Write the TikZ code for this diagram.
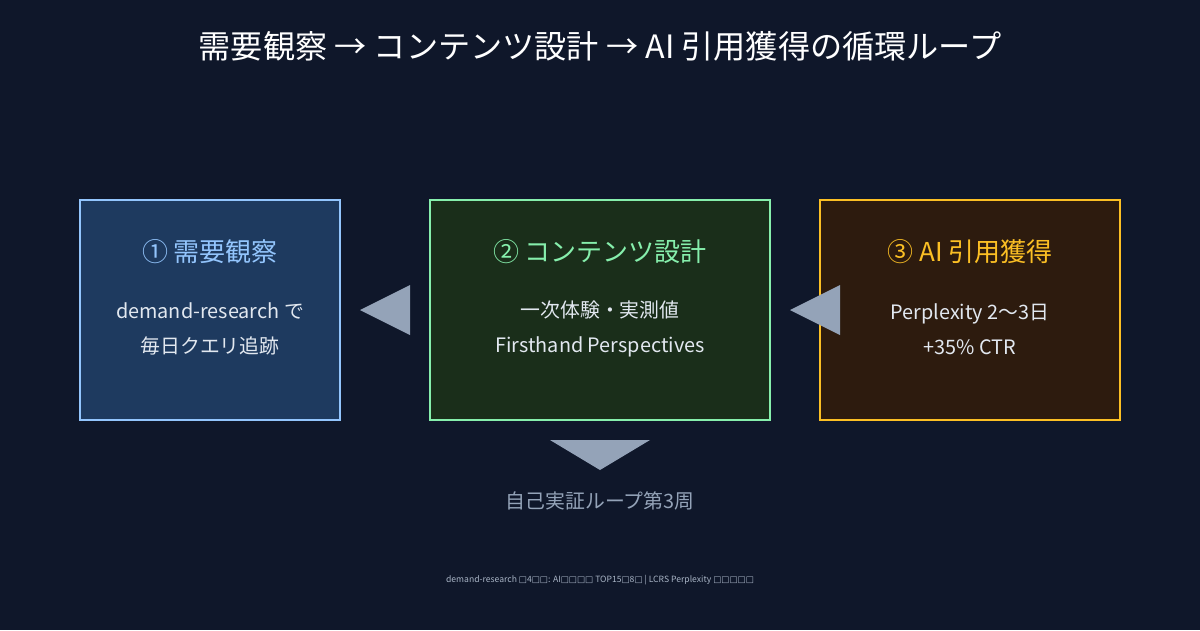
\documentclass[tikz,border=0pt]{standalone}
\usepackage{fontspec}
\setmainfont{Noto Sans CJK JP}
\newfontfamily\symfont{DejaVu Sans}
\definecolor{bgc}{HTML}{0F172A}
\definecolor{slate}{HTML}{94A3B8}
\definecolor{bluefill}{HTML}{1E3A5F}
\definecolor{bluedraw}{HTML}{93C5FD}
\definecolor{greenfill}{HTML}{1A2E1A}
\definecolor{greendraw}{HTML}{86EFAC}
\definecolor{amberfill}{HTML}{2D1B0E}
\definecolor{amberdraw}{HTML}{FBBF24}
\definecolor{bodytext}{HTML}{E2E8F0}
\tikzset{
  stage/.style={line width=1.2pt},
  head/.style={font=\fontsize{14.8}{17}\selectfont},
  body/.style={font=\fontsize{11.3}{20}\selectfont,text=bodytext,align=center},
  flow/.style={fill=slate,draw=none}
}
\begin{document}
\begin{tikzpicture}[x=0.02cm,y=-0.02cm]
    \useasboundingbox[fill=bgc] (0,0) rectangle (1200,630);
    % Titel
    \node[text=white,font=\fontsize{18.3}{21}\selectfont] (title) at (600,46) {需要観察 → コンテンツ設計 → AI 引用獲得の循環ループ};
    % Stufen
    \draw[stage,fill=bluefill,draw=bluedraw] (80,200) rectangle (340,420);
    \draw[stage,fill=greenfill,draw=greendraw] (430,200) rectangle (770,420);
    \draw[stage,fill=amberfill,draw=amberdraw] (820,200) rectangle (1120,420);
    \node[head,text=bluedraw] (h1) at (210,252) {① 需要観察};
    \node[head,text=greendraw] (h2) at (600,252) {② コンテンツ設計};
    \node[head,text=amberdraw] (h3) at (970,252) {③ AI 引用獲得};
    \node[body] (b1) at (210,329) {demand-research で\\毎日クエリ追跡};
    \node[body] (b2) at (600,329) {一次体験・実測値\\Firsthand Perspectives};
    \node[body] (b3) at (970,329) {Perplexity 2〜3日\\+35\% CTR};
    % Pfeile
    \fill[flow] (360,310) -- (410,285) -- (410,335) -- cycle;
    \fill[flow] (790,310) -- (840,285) -- (840,335) -- cycle;
    \fill[flow] (550,440) -- (650,440) -- (600,470) -- cycle;
    % Beschriftungen unten
    \node[text=slate,font=\fontsize{11.3}{13}\selectfont] (loop) at (600,501) {自己実証ループ第3周};
    \node[text=slate!80,font=\fontsize{4.9}{6}\selectfont] (foot) at (600,580) {demand-research {\symfont□}4{\symfont□□}: AI{\symfont□□□□} TOP15{\symfont□}8{\symfont□} | LCRS Perplexity {\symfont□□□□□}};
\end{tikzpicture}
\end{document}
